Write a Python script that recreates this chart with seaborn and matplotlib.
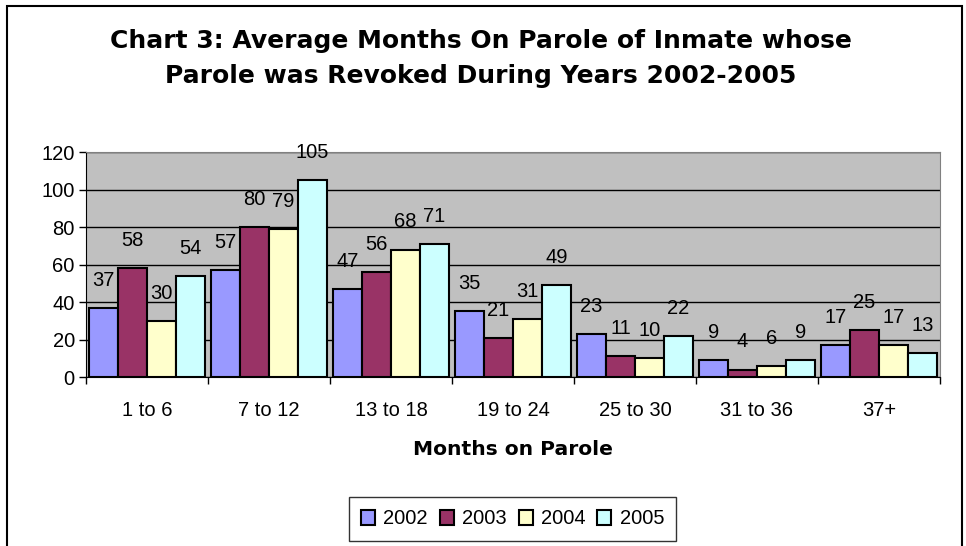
import pandas as pd
import seaborn as sns
import matplotlib.pyplot as plt
from matplotlib.patches import Rectangle

# valores
meses = ['1 to 6', '7 to 12', '13 to 18', '19 to 24', '25 to 30', '31 to 36', '37+']
anos = ['2002', '2003', '2004', '2005']
v2002 = [37, 57, 47, 35, 23, 9, 17]
v2003 = [58, 80, 56, 21, 11, 4, 25]
v2004 = [30, 79, 68, 31, 10, 6, 17]
v2005 = [54, 105, 71, 49, 22, 9, 13]
cores = ['#9999FF', '#993366', '#FFFFCC', '#CCFFFF']

linhas = []
for ano, vals in zip(anos, [v2002, v2003, v2004, v2005]):
    for m, v in zip(meses, vals):
        linhas.append({'meses': m, 'ano': ano, 'valor': v})
df = pd.DataFrame(linhas)

plt.rcParams['font.family'] = ['Liberation Sans', 'DejaVu Sans']
fs = 14.5

fig = plt.figure(figsize=(9.66, 5.46), dpi=100)
ax = fig.add_axes([0.089, 0.3095, 0.884, 0.412])
ax.set_facecolor('#C0C0C0')

sns.barplot(data=df, x='meses', y='valor', hue='ano', palette=cores,
            width=0.95, edgecolor='black', linewidth=1.5, saturation=1,
            ax=ax, zorder=3)

for cont in ax.containers:
    ax.bar_label(cont, padding=13, fontsize=fs)

ax.set_ylim(0, 120)
ax.set_yticks(range(0, 121, 20))
ax.set_xlim(-0.5, len(meses) - 0.5)
ax.yaxis.grid(True, color='black', linewidth=1, zorder=0)
ax.set_axisbelow(True)
ax.tick_params(axis='y', labelsize=fs, length=5, width=1, pad=3)
ax.tick_params(axis='x', labelsize=fs, length=0, pad=17)
ax.set_xticks(range(len(meses)))
# marcas entre categorias
ax.set_xticks([i - 0.5 for i in range(len(meses) + 1)], minor=True)
ax.tick_params(axis='x', which='minor', length=5, width=1, direction='out')

for s in ['top', 'right']:
    ax.spines[s].set_color('#808080')
for s in ['left', 'bottom']:
    ax.spines[s].set_color('black')

ax.set_ylabel('')
ax.set_xlabel('Months on Parole', fontsize=14.6, fontweight='bold', family='DejaVu Sans')
ax.xaxis.set_label_coords(0.5, -0.324)
ax.xaxis.label.set_va('center')

fig.text(481 / 966, 1 - 58.5 / 546,
         'Chart 3: Average Months On Parole of Inmate whose\nParole was Revoked During Years 2002-2005',
         ha='center', va='center', fontsize=18, fontweight='bold', family='DejaVu Sans',
         linespacing=1.57)

leg = ax.legend(loc='center', ncol=4, frameon=True, fancybox=False, fontsize=fs,
                handlelength=0.7, handleheight=0.7, handletextpad=0.4,
                columnspacing=0.6, borderpad=0.6)
leg.set_bbox_to_anchor((512.5 / 966, 1 - 519 / 546), transform=fig.transFigure)
leg.get_frame().set_edgecolor('black')
leg.get_frame().set_linewidth(1)

fig.patches.append(Rectangle((7 / 966, -0.1), 955 / 966, 1.1 - 5.5 / 546, transform=fig.transFigure,
                             fill=False, edgecolor='black', linewidth=1.5))

fig.savefig('out.png', dpi=100)
